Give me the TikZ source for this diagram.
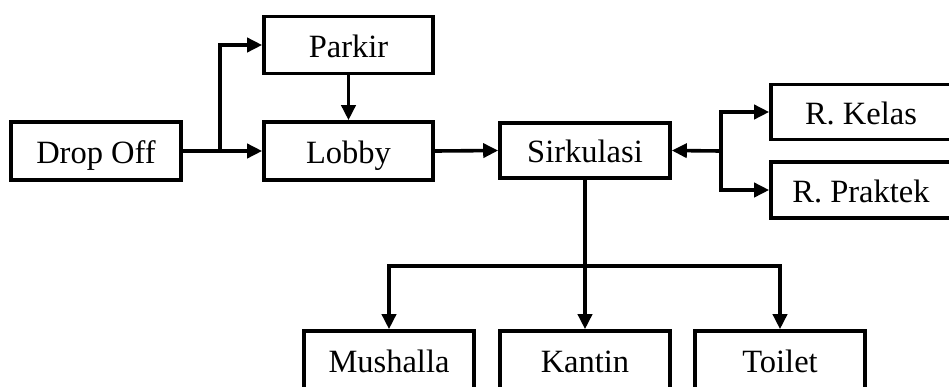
\documentclass[tikz,border=0pt]{standalone}
\usepackage{fontspec}
\setmainfont{Liberation Serif}
\usetikzlibrary{arrows.meta}
\begin{document}
\begin{tikzpicture}[x=1pt,y=-1pt,
  box/.style={draw, line width=3.6pt, rectangle, inner sep=0pt,
    text height=30pt, text depth=6pt,
    font=\fontsize{32.5}{38}\selectfont},
  conn/.style={line width=3.6pt, line join=miter},
  arr/.style={conn, -{Triangle[length=15pt,width=14pt]}}]
\useasboundingbox (0,0) rectangle (949,386);
\clip (0,0) rectangle (949,386);
% nodes
\node[box, minimum width=170pt, minimum height=58pt] (drop) at (96,151) {Drop Off};
\node[box, minimum width=169pt, minimum height=57pt] (parkir) at (348.5,45) {Parkir};
\node[box, minimum width=169pt, minimum height=58pt] (lobby) at (348.5,151) {Lobby};
\node[box, minimum width=170pt, minimum height=55pt] (sirk) at (585,150.5) {Sirkulasi};
\node[box, minimum width=180pt, minimum height=55pt] (kelas) at (861,112) {R. Kelas};
\node[box, minimum width=180pt, minimum height=56pt] (praktek) at (861,190) {R. Praktek};
\node[box, minimum width=170pt, minimum height=58pt] (mush) at (389,360) {Mushalla};
\node[box, minimum width=170pt, minimum height=58pt] (kantin) at (585,360) {Kantin};
\node[box, minimum width=170pt, minimum height=58pt] (toilet) at (780,360) {Toilet};
% junctions
\coordinate (j1) at (220,151);
\coordinate (j2) at (721,151);
\coordinate (j3) at (585,266);
% connectors
\draw[arr] (drop.east) -- (lobby.west);
\draw[arr] (j1) |- (parkir.west);
\draw[arr] (parkir.south) -- (lobby.north);
\draw[arr] (lobby.east) -- (sirk.west);
\draw[arr] (j2) -- (sirk.east);
\draw[arr] (j2) |- (kelas.west);
\draw[arr] (j2) |- (praktek.west);
\draw[conn] (sirk.south) -- (j3);
\draw[arr] (j3) -| (mush.north);
\draw[arr] (j3) -- (kantin.north);
\draw[arr] (j3) -| (toilet.north);
\end{tikzpicture}
\end{document}
